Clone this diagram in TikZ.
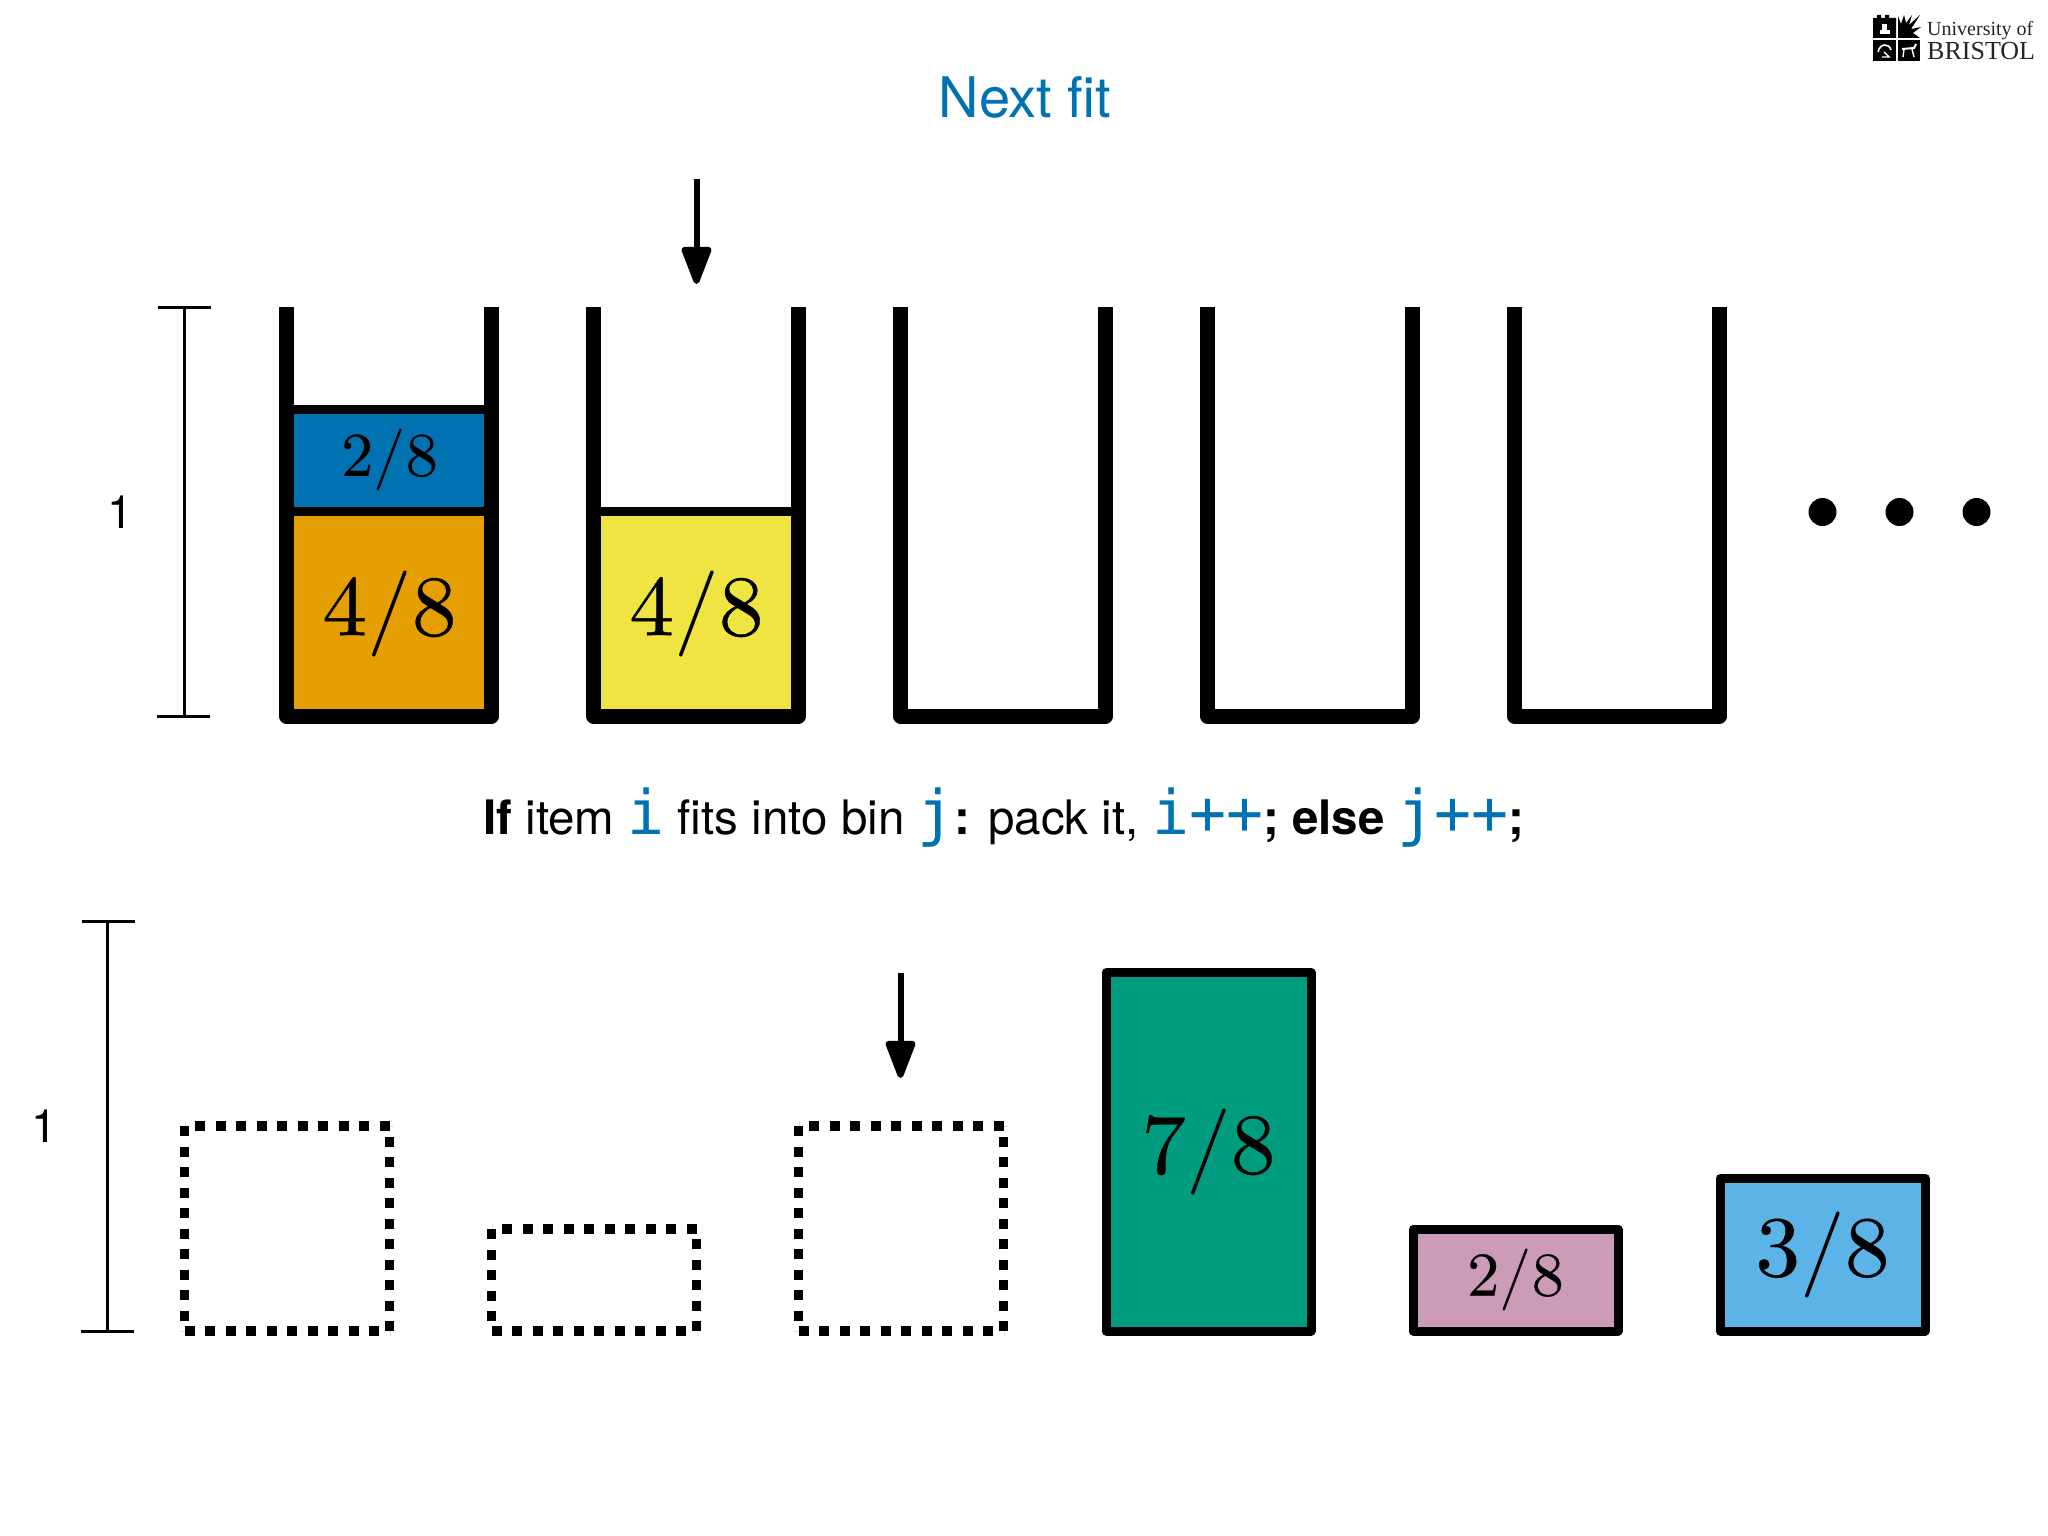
\documentclass[tikz,border=0pt]{standalone}
\usepackage{fontspec}
\setmainfont{TeX Gyre Heros}
\setmonofont{DejaVu Sans Mono}
\newfontfamily\lmfont[FakeStretch=1.04]{lmroman10-regular.otf}
\newfontfamily\lmdigit[FakeStretch=1.04,FakeBold=0.45]{lmroman10-regular.otf}
\newfontfamily\logofont{Liberation Serif}
\usetikzlibrary{arrows.meta}
\definecolor{cblue}{HTML}{0072B2}
\definecolor{corange}{HTML}{E69F00}
\definecolor{cyellow}{HTML}{F0E442}
\definecolor{cgreen}{HTML}{009C7F}
\definecolor{cpink}{HTML}{CC9BB5}
\definecolor{csky}{HTML}{5BB3E8}
\newcommand{\code}[1]{{\fontsize{61.5}{60}\selectfont\ttfamily\color{cblue}#1}}
\newcommand{\frc}[2]{{\lmdigit #1}/{\lmdigit #2}}
\tikzset{
  x=1pt,y=-1pt,
  item/.style={draw=black,line width=9pt,line join=round,inner sep=0pt,outer sep=0pt,minimum width=205pt,font=\lmfont\fontsize{86}{86}\selectfont},
  smallitem/.style={item,font=\lmfont\fontsize{62}{62}\selectfont},
  binwall/.style={draw=black,line width=15pt,line join=round,line cap=butt},
  ghost/.style={draw=black,line width=9.5pt,dash pattern=on 10pt off 10.5pt,line cap=butt},
  rule/.style={draw=black,line width=3pt},
  pointer/.style={draw=black,line width=6pt,-{Triangle[length=43pt,width=31pt,round]}},
  lab/.style={inner sep=0pt,font=\fontsize{46}{46}\selectfont},
  dotn/.style={circle,fill=black,inner sep=0pt,minimum size=28pt},
}
\begin{document}
\begin{tikzpicture}
\useasboundingbox (0,0) rectangle (2048,1536);
\fill[white] (0,0) rectangle (2048,1536);
% title
\node[inner sep=0pt,anchor=base,text=cblue,font=\fontsize{56}{56}\selectfont] (title) at (1025,117.5) {Next fit};
% top ruler
\coordinate (rt) at (184,307); \coordinate (rb) at (184,716);
\draw[rule] (rt) -- (rb);
\draw[rule] (158,307) -- (211,307);
\draw[rule] (157,716) -- (210,716);
\node[lab] (one) at (120,512) {1};
% items in bins
\node[item,fill=corange,minimum height=204.5pt] (a) at (389.5,613.75) {\frc{4}{8}};
\node[smallitem,fill=cblue,minimum height=102.5pt] (b) at (389.5,460.25) {\frc{2}{8}};
\node[item,fill=cyellow,minimum height=204.5pt] (c) at (696.5,613.75) {\frc{4}{8}};
% bins
\foreach \bx in {286.5,593.5,900.5,1207.5,1514.5}
  \draw[binwall] (\bx,307) -- (\bx,716) -- (\bx+205,716) -- (\bx+205,307);
% pointers
\coordinate (p1s) at (696.5,179); \coordinate (p1e) at (696.5,284);
\draw[pointer] (p1s) -- (p1e);
\coordinate (p2s) at (900.5,973); \coordinate (p2e) at (900.5,1078);
\draw[pointer] (p2s) -- (p2e);
% dots
\node[dotn] (d1) at (1822.5,512) {};
\node[dotn] (d2) at (1899.5,512) {};
\node[dotn] (d3) at (1976.5,512) {};
% rule text
\node[inner sep=0pt,anchor=base,font=\fontsize{47.5}{47}\selectfont] (txt) at (1004,834)
  {\textbf{If} item \code{i} fits into bin \code{j}\textbf{:} pack it, \code{i++}\textbf{; else} \code{j++}\textbf{;}};
% bottom ruler
\coordinate (qt) at (107,921); \coordinate (qb) at (107,1331);
\draw[rule] (qt) -- (qb);
\draw[rule] (82,921) -- (135,921);
\draw[rule] (81,1331) -- (134,1331);
\node[lab] (two) at (44,1126) {1};
% ghost items: each side restarts the dash pattern
\draw[ghost] (184.5,1331) -- (389.5,1331) (389.5,1331) -- (389.5,1126) (389.5,1126) -- (184.5,1126) (184.5,1126) -- (184.5,1331);
\draw[ghost] (491.5,1331) -- (696.5,1331) (696.5,1331) -- (696.5,1229) (696.5,1229) -- (491.5,1229) (491.5,1229) -- (491.5,1331);
\draw[ghost] (798.5,1331) -- (1003.5,1331) (1003.5,1331) -- (1003.5,1126) (1003.5,1126) -- (798.5,1126) (798.5,1126) -- (798.5,1331);
% solid items
\node[item,fill=cgreen,minimum height=358.5pt] (g) at (1208.5,1151.75) {\frc{7}{8}};
\node[smallitem,fill=cpink,minimum height=102pt] (h) at (1515.5,1280) {\frc{2}{8}};
\node[item,fill=csky,minimum height=153pt] (s) at (1822.5,1254.5) {\frc{3}{8}};
% logo
\fill[black] (1873,18) -- (1877,18) -- (1877,15) -- (1881,15) -- (1881,18) -- (1885,18) -- (1885,15) -- (1889,15) -- (1889,18) -- (1896,18) -- (1896,38) -- (1873,38) -- cycle;
\fill[white] (1880,30) rectangle (1890,34);
\fill[white] (1882,24) rectangle (1887,30);
\fill[black] (1898,38) -- (1898,16) -- (1901,24) -- (1904,15) -- (1906,23) -- (1912,15) -- (1909,25) -- (1920,15) -- (1911,29) -- (1921,27) -- (1913,33) -- (1920,38) -- cycle;
\fill[black] (1873,40) rectangle (1896,61);
\fill[black] (1898,40) rectangle (1920,61);
\draw[white,line width=1.6pt] (1878,52) .. controls (1880,43) and (1889,43) .. (1891,50);
\draw[white,line width=1.4pt] (1882,57) -- (1889,57) -- (1884,52);
\draw[white,line width=2pt] (1902,49) -- (1914,48) -- (1916,44);
\draw[white,line width=1.4pt] (1904,49) -- (1903,57) (1912,49) -- (1914,57);
\node[inner sep=0pt,anchor=base west,font=\logofont\fontsize{20}{20}\selectfont,text=black!85] (l1) at (1927,36) {University of};
\node[inner sep=0pt,anchor=base west,font=\logofont\fontsize{26}{26}\selectfont,text=black!85] (l2) at (1927,60) {BRISTOL};
\end{tikzpicture}
\end{document}
